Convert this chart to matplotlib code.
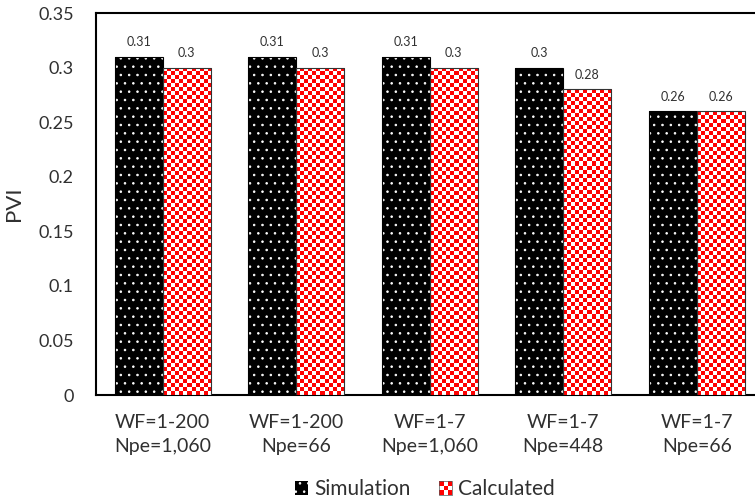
import numpy as np
import matplotlib
matplotlib.use("Agg")
import matplotlib.pyplot as plt
from matplotlib.patches import Rectangle
from matplotlib.legend_handler import HandlerBase

categories = ["WF=1-200\nNpe=1,060", "WF=1-200\nNpe=66", "WF=1-7\nNpe=1,060",
              "WF=1-7\nNpe=448", "WF=1-7\nNpe=66"]
simulation = [0.31, 0.31, 0.31, 0.30, 0.26]
calculated = [0.30, 0.30, 0.30, 0.28, 0.26]
sim_labels = ["0.31", "0.31", "0.31", "0.3", "0.26"]
calc_labels = ["0.3", "0.3", "0.3", "0.28", "0.26"]
yticks = [0, 0.05, 0.1, 0.15, 0.2, 0.25, 0.3, 0.35]
ytick_labels = ["0", "0.05", "0.1", "0.15", "0.2", "0.25", "0.3", "0.35"]

RED = "#ff0000"
TXT = "#303030"
plt.rcParams['font.family'] = ['Lato', 'DejaVu Sans']
plt.rcParams['hatch.linewidth'] = 0.6

fig = plt.figure(figsize=(7.55, 5.03), dpi=100)
ax = fig.add_axes([0.127, 0.2147, 0.8843, 0.7594])

x = np.arange(len(categories))
w = 0.36
ymax = 0.35
ax.set_xlim(-0.5, len(categories) - 0.5)
ax.set_ylim(0, ymax)

# Simulation bars: black with white dots
ax.bar(x - w / 2, simulation, w, facecolor="black", edgecolor="white", hatch="..", linewidth=0, zorder=2)
ax.bar(x - w / 2, simulation, w, fill=False, edgecolor="black", linewidth=0.8, zorder=4)

# Calculated bars: red/white checkerboard
calc_bars = ax.bar(x + w / 2, calculated, w, facecolor="white", edgecolor="none", zorder=2)
px_per_unit_y = 382 / ymax
cell_px = 4.0
for b, h in zip(calc_bars, calculated):
    nx = 12
    ny = max(1, int(round(h * px_per_unit_y / cell_px)))
    ii, jj = np.meshgrid(np.arange(nx), np.arange(ny))
    board = ((ii + jj) % 2).astype(float)
    img = np.ones((ny, nx, 3))
    img[board == 0] = [1.0, 0.0, 0.0]
    x0 = b.get_x()
    im = ax.imshow(img, extent=(x0, x0 + b.get_width(), 0, h), origin="lower",
                   aspect="auto", interpolation="nearest", zorder=3)
    im.set_clip_path(b)
ax.bar(x + w / 2, calculated, w, fill=False, edgecolor="#333333", linewidth=0.8, zorder=4)
ax.set_xlim(-0.5, len(categories) - 0.5)
ax.set_ylim(0, ymax)

for xi, v, s in zip(x - w / 2, simulation, sim_labels):
    ax.annotate(s, (xi, v), xytext=(0, 6), textcoords="offset points", ha="center", va="bottom",
                fontsize=9, color=TXT)
for xi, v, s in zip(x + w / 2, calculated, calc_labels):
    ax.annotate(s, (xi, v), xytext=(0, 6), textcoords="offset points", ha="center", va="bottom",
                fontsize=9, color=TXT)

ax.set_yticks(yticks)
ax.set_yticklabels(ytick_labels, fontsize=13, color=TXT)
ax.set_xticks(x)
ax.set_xticklabels(categories, fontsize=14, color=TXT, linespacing=1.5)
ax.tick_params(axis="both", length=0)
ax.tick_params(axis="y", pad=16)
ax.tick_params(axis="x", pad=14)
ax.set_ylabel("PVI", fontsize=16, color=TXT, labelpad=10)

for s in ["left", "top", "bottom"]:
    ax.spines[s].set_linewidth(1.5)
    ax.spines[s].set_color("black")
ax.spines["right"].set_visible(False)


class SimHandler(HandlerBase):
    def create_artists(self, legend, orig_handle, xdescent, ydescent, width, height, fontsize, trans):
        r = Rectangle((-xdescent, -ydescent), width, height, facecolor="black",
                      edgecolor="white", hatch="..", linewidth=0, transform=trans)
        return [r]


class CheckerHandler(HandlerBase):
    def create_artists(self, legend, orig_handle, xdescent, ydescent, width, height, fontsize, trans):
        arts = []
        n = 3
        cw, ch = width / n, height / n
        for i in range(n):
            for j in range(n):
                c = RED if (i + j) % 2 == 0 else "white"
                arts.append(Rectangle((-xdescent + i * cw, -ydescent + j * ch), cw, ch,
                                      facecolor=c, edgecolor="none", transform=trans))
        arts.append(Rectangle((-xdescent, -ydescent), width, height, facecolor="none",
                              edgecolor="#555555", linewidth=0.5, transform=trans))
        return arts


h1 = Rectangle((0, 0), 1, 1)
h2 = Rectangle((0, 0), 1, 1)
fig.legend([h1, h2], ["Simulation", "Calculated"], loc="lower center",
           bbox_to_anchor=(0.563, -0.03), ncol=2, frameon=False, fontsize=15,
           handlelength=0.6, handleheight=0.6, handletextpad=0.3, columnspacing=1.4,
           handler_map={h1: SimHandler(), h2: CheckerHandler()},
           labelcolor=TXT)

fig.savefig("out.png", dpi=100)
